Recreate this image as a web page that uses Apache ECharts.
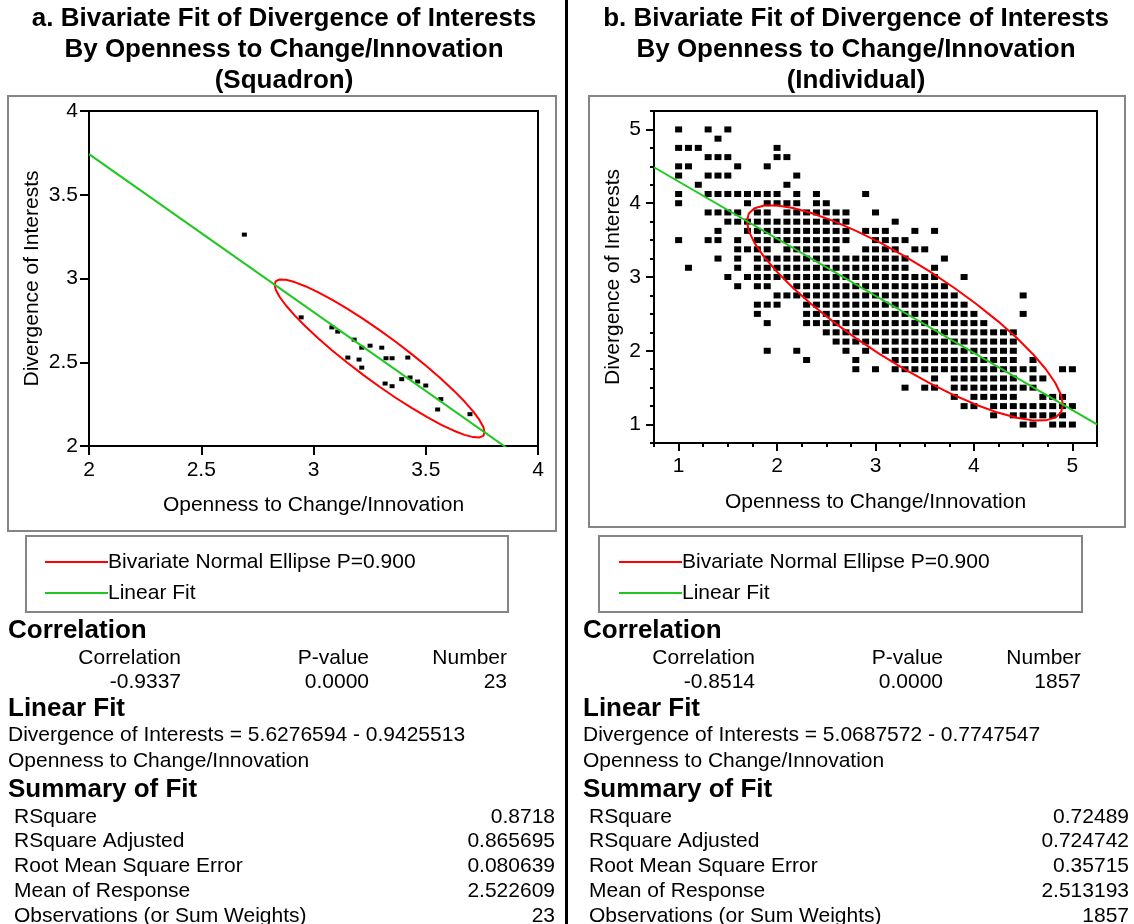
<!DOCTYPE html>
<html>
<head>
<meta charset="utf-8">
<script src="https://cdn.jsdelivr.net/npm/echarts@6/dist/echarts.min.js"></script>
<style>
    html, body { margin: 0; padding: 0; background: #fff; }
    #main { width: 1134px; height: 924px; }
</style>
</head>
<body>
<div id="main"></div>
<script>
var FONT = '"Liberation Sans", Arial, Helvetica, sans-serif';
var RED = '#ff0000';
var GREEN = '#1ec81e';

// a. squadron means (23 squadrons)
var openA = [2.692, 2.945, 3.082, 3.108, 3.181, 3.215, 3.252, 3.304, 3.153, 3.203, 3.215, 3.323,
    3.350, 3.420, 3.393, 3.430, 3.464, 3.500, 3.319, 3.350, 3.567, 3.553, 3.697];
var divA = [3.262, 2.768, 2.708, 2.683, 2.635, 2.587, 2.599, 2.587, 2.528, 2.516, 2.468, 2.524,
    2.524, 2.528, 2.399, 2.409, 2.385, 2.361, 2.373, 2.357, 2.280, 2.218, 2.190];

// b. individual answers: one row per Divergence value, with the Openness values seen on that row
var divRowsB = [5, 4.875, 4.75, 4.625, 4.5, 4.375, 4.25, 4.125, 4, 3.875, 3.75, 3.625, 3.5, 3.375,
    3.25, 3.125, 3, 2.875, 2.75, 2.625, 2.5, 2.375, 2.25, 2.125, 2, 1.875, 1.75, 1.625, 1.5,
    1.375, 1.25, 1.125, 1];
var openRowsB = [
    [1.0, 1.3, 1.5],
    [1.4],
    [1.0, 1.1, 1.2, 2.0],
    [1.3, 1.4, 1.5, 2.0, 2.1],
    [1.0, 1.1, 1.6, 1.9],
    [1.0, 1.3, 1.4, 1.5, 2.2],
    [1.2, 2.1],
    [1.0, 1.3, 1.4, 1.5, 1.6, 1.7, 1.8, 1.9, 2.0, 2.2, 2.4, 2.9],
    [1.0, 1.7, 1.9, 2.0, 2.1, 2.2, 2.4, 2.5],
    [1.3, 1.4, 1.5, 1.6, 1.8, 1.9, 2.1, 2.2, 2.3, 2.4, 2.5, 2.6, 2.7, 3.0],
    [1.5, 1.6, 1.7, 1.8, 1.9, 2.0, 2.1, 2.2, 2.3, 2.4, 2.5, 2.6, 2.7, 3.2],
    [1.4, 1.7, 1.8, 1.9, 2.0, 2.1, 2.2, 2.3, 2.4, 2.5, 2.6, 2.7, 2.9, 3.0, 3.1, 3.4, 3.6],
    [1.0, 1.3, 1.4, 1.6, 1.8, 1.9, 2.0, 2.1, 2.2, 2.3, 2.4, 2.5, 2.6, 2.7, 3.0, 3.1, 3.2, 3.3],
    [1.6, 1.7, 1.8, 1.9, 2.1, 2.2, 2.3, 2.4, 2.5, 2.6, 2.9, 3.0, 3.1, 3.2, 3.4, 3.5],
    [1.4, 1.6, 1.8, 1.9, 2.0, 2.1, 2.2, 2.3, 2.4, 2.5, 2.6, 2.7, 2.8, 2.9, 3.0, 3.1, 3.2, 3.3, 3.7],
    [1.1, 1.6, 1.8, 1.9, 2.0, 2.1, 2.2, 2.3, 2.4, 2.5, 2.6, 2.7, 2.8, 2.9, 3.0, 3.1, 3.2, 3.3, 3.6],
    [1.5, 1.7, 1.8, 1.9, 2.0, 2.1, 2.2, 2.3, 2.4, 2.5, 2.6, 2.7, 2.8, 2.9, 3.0, 3.1, 3.2, 3.3, 3.4, 3.5, 3.6, 3.9],
    [1.6, 1.8, 1.9, 2.2, 2.3, 2.4, 2.5, 2.6, 2.7, 2.8, 2.9, 3.0, 3.1, 3.2, 3.3, 3.4, 3.5, 3.6, 3.7],
    [2.0, 2.1, 2.2, 2.3, 2.4, 2.5, 2.6, 2.7, 2.8, 2.9, 3.0, 3.1, 3.2, 3.3, 3.4, 3.5, 3.6, 3.7, 3.8, 4.5],
    [1.8, 1.9, 2.0, 2.3, 2.4, 2.5, 2.6, 2.7, 2.8, 2.9, 3.0, 3.1, 3.2, 3.3, 3.4, 3.5, 3.6, 3.7, 3.8, 3.9],
    [1.8, 2.3, 2.4, 2.5, 2.6, 2.7, 2.8, 2.9, 3.0, 3.1, 3.2, 3.3, 3.4, 3.5, 3.6, 3.7, 3.8, 3.9, 4.0, 4.5],
    [1.9, 2.3, 2.4, 2.5, 2.6, 2.7, 2.8, 2.9, 3.0, 3.1, 3.2, 3.3, 3.4, 3.5, 3.6, 3.7, 3.8, 3.9, 4.0, 4.1],
    [2.5, 2.6, 2.7, 2.8, 2.9, 3.0, 3.1, 3.2, 3.3, 3.4, 3.5, 3.6, 3.7, 3.8, 3.9, 4.0, 4.1, 4.2, 4.3, 4.4],
    [2.6, 2.7, 2.8, 2.9, 3.0, 3.1, 3.2, 3.3, 3.4, 3.5, 3.6, 3.7, 3.8, 3.9, 4.0, 4.1, 4.2, 4.3, 4.4],
    [1.9, 2.2, 2.7, 2.9, 3.1, 3.2, 3.3, 3.4, 3.5, 3.6, 3.7, 3.8, 3.9, 4.0, 4.1, 4.2, 4.3, 4.4],
    [2.3, 2.8, 3.2, 3.3, 3.4, 3.5, 3.6, 3.7, 3.8, 3.9, 4.0, 4.1, 4.2, 4.3, 4.4, 4.6],
    [2.8, 3.0, 3.2, 3.3, 3.4, 3.5, 3.6, 3.7, 3.8, 3.9, 4.0, 4.1, 4.2, 4.3, 4.4, 4.5, 4.6, 4.9, 5.0],
    [3.6, 3.8, 3.9, 4.0, 4.1, 4.2, 4.3, 4.4, 4.6, 4.7],
    [3.3, 3.5, 3.6, 3.8, 3.9, 4.0, 4.1, 4.2, 4.3, 4.4, 4.5, 4.6],
    [3.8, 4.0, 4.1, 4.2, 4.3, 4.4, 4.7, 4.8, 4.9],
    [3.9, 4.0, 4.2, 4.3, 4.4, 4.5, 4.6, 4.7, 4.8, 4.9, 5.0],
    [4.2, 4.4, 4.5, 4.6, 4.7, 4.8, 4.9],
    [4.5, 4.6, 4.8, 4.9, 5.0]
];

// report text
var titlesA = ['a. Bivariate Fit of Divergence of Interests', 'By Openness to Change/Innovation', '(Squadron)'];
var titlesB = ['b. Bivariate Fit of Divergence of Interests', 'By Openness to Change/Innovation', '(Individual)'];
var legendNames = ['Bivariate Normal Ellipse P=0.900', 'Linear Fit'];
var corrHeads = ['Correlation', 'P-value', 'Number'];
var corrA = ['-0.9337', '0.0000', '23'];
var corrB = ['-0.8514', '0.0000', '1857'];
var eqA = ['Divergence of Interests = 5.6276594 - 0.9425513', 'Openness to Change/Innovation'];
var eqB = ['Divergence of Interests = 5.0687572 - 0.7747547', 'Openness to Change/Innovation'];
var summaryLabels = ['RSquare', 'RSquare Adjusted', 'Root Mean Square Error', 'Mean of Response', 'Observations (or Sum Weights)'];
var summaryA = ['0.8718', '0.865695', '0.080639', '2.522609', '23'];
var summaryB = ['0.72489', '0.724742', '0.35715', '2.513193', '1857'];

// fit numbers: intercept, slope, r, rmse, n, mean of response
var fitA = [5.6276594, -0.9425513, -0.9337, 0.080639, 23, 2.522609];
var fitB = [5.0687572, -0.7747547, -0.8514, 0.35715, 1857, 2.513193];

// axis ticks
var ticksA = [2, 2.5, 3, 3.5, 4];
var majorB = [1, 2, 3, 4, 5];
var minorB = [0.75, 1.25, 1.5, 1.75, 2.25, 2.5, 2.75, 3.25, 3.5, 3.75, 4.25, 4.5, 4.75, 5.25];

// 90% bivariate normal ellipse from the reported moments
function ellipse(f) {
    var b0 = f[0], b1 = f[1], r = f[2], rmse = f[3], n = f[4], my = f[5];
    var mx = (my - b0) / b1;
    var sy = rmse * Math.sqrt((n - 2) / (n - 1)) / Math.sqrt(1 - r * r);
    var sx = sy * r / b1;
    var k = Math.sqrt(-2 * Math.log(1 - 0.9));
    var pts = [];
    for (var i = 0; i <= 40; i++) {
        var t = 2 * Math.PI * i / 40;
        pts.push([mx + k * sx * Math.cos(t),
            my + k * sy * (r * Math.cos(t) + Math.sqrt(1 - r * r) * Math.sin(t))]);
    }
    return pts;
}

function fitLine(f, xmin, xmax) {
    return [[xmin, f[0] + f[1] * xmin], [xmax, f[0] + f[1] * xmax]];
}

var pointsB = [];
divRowsB.forEach(function (y, i) {
    openRowsB[i].forEach(function (x) { pointsB.push([x, y]); });
});
var pointsA = openA.map(function (x, i) { return [x, divA[i]]; });

var black = { color: '#000', width: 2 };
function axis(dim, grid, min, max, o) {
    var a = {
        type: 'value', gridIndex: grid, min: min, max: max,
        position: dim === 'x' ? 'bottom' : 'left',
        axisLine: { show: true, onZero: false, lineStyle: black },
        axisTick: { show: true, inside: false, length: o.tick, lineStyle: black },
        axisLabel: {
            show: true, color: '#000', fontFamily: FONT, fontSize: 21, margin: o.margin,
            showMinLabel: true, showMaxLabel: true
        },
        splitLine: { show: false },
        name: o.name, nameLocation: 'middle', nameGap: o.gap,
        nameTextStyle: { color: '#000', fontFamily: FONT, fontSize: 21 }
    };
    if (o.interval) a.interval = o.interval;
    if (o.custom) {
        a.interval = 0.25;
        a.axisLabel.customValues = o.custom;
        a.axisTick.customValues = o.custom;
    }
    return a;
}
function minorAxis(dim, grid, min, max, vals) {
    return {
        type: 'value', gridIndex: grid, min: min, max: max, interval: 0.25,
        position: dim === 'x' ? 'bottom' : 'left', offset: 0,
        axisLine: { show: false, onZero: false },
        axisTick: { show: true, length: 4, lineStyle: black, customValues: vals },
        axisLabel: { show: false },
        splitLine: { show: false }
    };
}

var XNAME = 'Openness to Change/Innovation';
var YNAME = 'Divergence of Interests';

// graphic report parts
var graphics = [];
function text(x, y, s, align, size, bold) {
    graphics.push({
        type: 'text', x: x, y: y, silent: true,
        style: {
            text: s, fill: '#000', fontFamily: FONT, fontSize: size || 21,
            fontWeight: bold ? 'bold' : 'normal', align: align || 'left', verticalAlign: 'middle'
        }
    });
}
function box(b) {
    graphics.push({
        type: 'rect', silent: true, shape: { x: b[0], y: b[1], width: b[2], height: b[3] },
        style: { fill: 'none', stroke: '#858585', lineWidth: 2 }
    });
}
function seg(x1, y, x2, color) {
    graphics.push({
        type: 'line', silent: true, shape: { x1: x1, y1: y, x2: x2, y2: y },
        style: { stroke: color, lineWidth: 2 }
    });
}

function panel(L, titles, corr, eq, summary) {
    titles.forEach(function (t, i) { text(L.cx, 19 + i * 31, t, 'center', 26, true); });
    box(L.frame);
    box(L.legend);
    seg(L.legX, 562, L.legX + 63, RED);
    seg(L.legX, 593, L.legX + 63, GREEN);
    text(L.legX + 63, 562, legendNames[0]);
    text(L.legX + 63, 593, legendNames[1]);
    text(L.head, 631, 'Correlation', 'left', 26, true);
    corrHeads.forEach(function (h, i) {
        text(L.cols[i], 658, h, 'right');
        text(L.cols[i], 682, corr[i], 'right');
    });
    text(L.head, 709, 'Linear Fit', 'left', 26, true);
    text(L.head, 735, eq[0]);
    text(L.head, 761, eq[1]);
    text(L.head, 790, 'Summary of Fit', 'left', 26, true);
    summaryLabels.forEach(function (s, i) {
        text(L.lab, 817 + i * 24.7, s);
        text(L.val, 817 + i * 24.7, summary[i], 'right');
    });
}

panel({ cx: 284, frame: [8, 96, 548, 435], legend: [26, 536, 482, 76], legX: 45,
    head: 8, cols: [181, 369, 507], lab: 14, val: 555 }, titlesA, corrA, eqA, summaryA);
panel({ cx: 856, frame: [589, 96, 536, 431], legend: [599, 536, 483, 76], legX: 619,
    head: 583, cols: [755, 943, 1081], lab: 589, val: 1129 }, titlesB, corrB, eqB, summaryB);

// divider between the two reports
graphics.push({ type: 'rect', silent: true, shape: { x: 565, y: 0, width: 3, height: 924 }, style: { fill: '#000' } });

var option = {
    backgroundColor: '#fff',
    animation: false,
    grid: [
        { left: 89, top: 111, width: 449, height: 335, show: true, borderColor: '#000', borderWidth: 2, backgroundColor: '#fff' },
        { left: 654, top: 111, width: 443, height: 332, show: true, borderColor: '#000', borderWidth: 2, backgroundColor: '#fff' }
    ],
    xAxis: [
        axis('x', 0, 2, 4, { tick: 9, margin: 14, interval: 0.5, name: XNAME, gap: 49 }),
        axis('x', 1, 0.75, 5.25, { tick: 8, margin: 13, custom: majorB, name: XNAME, gap: 49 }),
        minorAxis('x', 1, 0.75, 5.25, minorB)
    ],
    yAxis: [
        axis('y', 0, 2, 4, { tick: 9, margin: 11, interval: 0.5, name: YNAME, gap: 46 }),
        axis('y', 1, 0.75, 5.25, { tick: 8, margin: 13, custom: majorB, name: YNAME, gap: 30 }),
        minorAxis('y', 1, 0.75, 5.25, minorB)
    ],
    series: [
        {
            type: 'scatter', xAxisIndex: 0, yAxisIndex: 0, data: pointsA,
            symbol: 'rect', symbolSize: [5, 4], itemStyle: { color: '#000', opacity: 1 }, silent: true
        },
        {
            type: 'line', xAxisIndex: 0, yAxisIndex: 0, data: ellipse(fitA), showSymbol: false,
            lineStyle: { color: RED, width: 2 }, z: 4, silent: true, clip: true
        },
        {
            type: 'line', xAxisIndex: 0, yAxisIndex: 0, data: fitLine(fitA, 2, 4), showSymbol: false,
            lineStyle: { color: GREEN, width: 2 }, z: 5, silent: true, clip: true
        },
        {
            type: 'scatter', xAxisIndex: 1, yAxisIndex: 1, data: pointsB,
            symbol: 'rect', symbolSize: [7, 6], itemStyle: { color: '#000', opacity: 1 }, silent: true
        },
        {
            type: 'line', xAxisIndex: 1, yAxisIndex: 1, data: ellipse(fitB), showSymbol: false,
            lineStyle: { color: RED, width: 2 }, z: 4, silent: true, clip: true
        },
        {
            type: 'line', xAxisIndex: 1, yAxisIndex: 1, data: fitLine(fitB, 0.75, 5.25), showSymbol: false,
            lineStyle: { color: GREEN, width: 2 }, z: 5, silent: true, clip: true
        }
    ],
    graphic: graphics
};

var chart = echarts.init(document.getElementById('main'), null, { renderer: 'canvas' });
chart.setOption(option);
</script>
</body>
</html>
